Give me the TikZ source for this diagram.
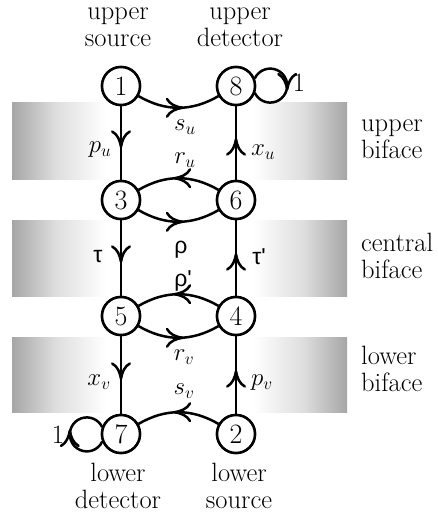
\documentclass[tikz,border=0pt]{standalone}
\usepackage{fontspec}
\newfontfamily\grk{Liberation Sans}
\usetikzlibrary{decorations.markings,arrows.meta}
\pgfdeclarehorizontalshading{bandshade}{100bp}{color(0bp)=(black!35); color(25bp)=(black!35); color(31.5bp)=(black!13); color(39bp)=(white); color(61bp)=(white); color(68.5bp)=(black!13); color(75bp)=(black!35); color(100bp)=(black!35)}
\tikzset{
  midarr/.tip={Computer Modern Rightarrow[scale length=2.5, scale width=1.35]},
  flow/.style={draw, line width=2.5pt, postaction={decorate},
    decoration={markings, mark=at position 0.5 with {\arrow[xshift=5pt]{midarr}}}},
  state/.style={circle, draw, line width=2.5pt, fill=white, minimum size=38pt, inner sep=0pt,
    font=\fontsize{28}{30}\selectfont},
  lbl/.style={font=\fontsize{26.5}{27}\selectfont, inner sep=0pt},
  grklbl/.style={font=\fontsize{23}{27}\grk, inner sep=0pt},
  band/.style={shading=bandshade}
}
\begin{document}
\begin{tikzpicture}[x=1pt,y=1pt]
\useasboundingbox (0,0) rectangle (438,-516);
% bands
\shade[band] (12,-103) rectangle (347,-179);
\shade[band] (12,-220) rectangle (347,-296);
\shade[band] (12,-337) rectangle (347,-412);
% nodes (positions)
\node[state] (n1) at (121,-86) {1};
\node[state] (n8) at (236,-86) {8};
\node[state] (n3) at (121,-200) {3};
\node[state] (n6) at (236,-200) {6};
\node[state] (n5) at (121,-316) {5};
\node[state] (n4) at (236,-316) {4};
\node[state] (n7) at (121,-434) {7};
\node[state] (n2) at (236,-434) {2};
% edges
\path[flow] (n1) -- (n3);
\path[flow] (n6) -- (n8);
\path[flow] (n3) -- (n5);
\path[flow] (n4) -- (n6);
\path[flow] (n5) -- (n7);
\path[flow] (n2) -- (n4);
\path[flow] (n1) to[bend right=30] (n8);
\path[flow] (n6) to[bend right=30] (n3);
\path[flow] (n3) to[bend right=30] (n6);
\path[flow] (n4) to[bend right=30] (n5);
\path[flow] (n5) to[bend right=30] (n4);
\path[flow] (n2) to[bend right=30] (n7);
% loops
\path[flow] (n8.22) arc[start angle=155, end angle=-155, radius=17];
\path[flow] (n7.-158) arc[start angle=-25, end angle=-335, radius=17];
% redraw nodes on top
\node[state] at (n1) {1};
\node[state] at (n8) {8};
\node[state] at (n3) {3};
\node[state] at (n6) {6};
\node[state] at (n5) {5};
\node[state] at (n4) {4};
\node[state] at (n7) {7};
\node[state] at (n2) {2};
% loop labels
\node[lbl] (one8) at (299,-83) {1};
\node[lbl] (one7) at (58,-435) {1};
% edge labels
\node[lbl] (su) at (185,-127) {$s_u$};
\node[lbl] (ru) at (185,-160) {$r_u$};
\node[grklbl] (rho) at (181,-250) {ρ};
\node[grklbl] (rhop) at (183,-281) {ρ\char"27};
\node[lbl] (rv) at (184,-357) {$r_v$};
\node[lbl] (sv) at (184,-391) {$s_v$};
\node[lbl] (pu) at (100,-150) {$p_u$};
\node[lbl] (xu) at (263,-152) {$x_u$};
\node[grklbl] (tau) at (98,-257) {τ};
\node[grklbl] (taup) at (259,-257) {τ\char"27};
\node[lbl] (xv) at (99,-382) {$x_v$};
\node[lbl] (pv) at (262,-383) {$p_v$};
% side labels
\node[lbl, anchor=west, align=left] (ub) at (361,-140) {\strut upper\\\strut biface};
\node[lbl, anchor=west, align=left] (cb) at (361,-260) {\strut central\\\strut biface};
\node[lbl, anchor=west, align=left] (lb) at (361,-373) {\strut lower\\\strut biface};
% top / bottom labels
\node[lbl, align=center] (us) at (118,-28) {\strut upper\\\strut source};
\node[lbl, align=center] (ud) at (240,-28) {\strut upper\\\strut detector};
\node[lbl, align=center] (ld) at (118,-490) {\strut lower\\\strut detector};
\node[lbl, align=center] (ls) at (239,-490) {\strut lower\\\strut source};
\end{tikzpicture}
\end{document}
